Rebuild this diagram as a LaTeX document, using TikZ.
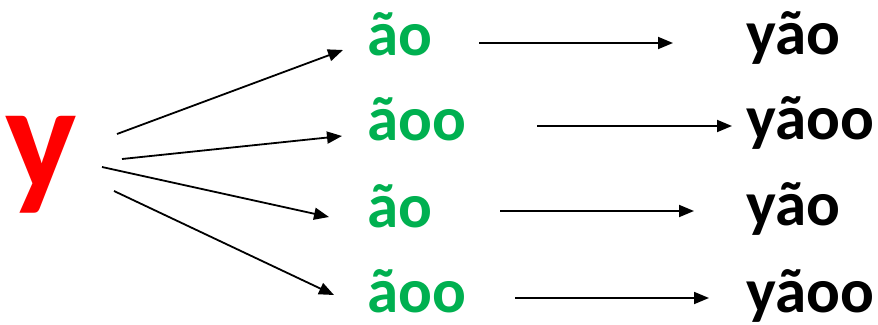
\documentclass[tikz,border=0pt]{standalone}
\usepackage{fontspec}
\setmainfont{Carlito}
\usetikzlibrary{arrows.meta}
\definecolor{offgreen}{HTML}{00B050}
\definecolor{offred}{HTML}{FF0000}
\tikzset{
  lbl/.style={anchor=base west, inner sep=0pt, text depth=0pt, font=\fontsize{63}{70}\selectfont\bfseries},
  grn/.style={lbl, text=offgreen},
  blk/.style={lbl, text=black},
  big/.style={anchor=base west, inner sep=0pt, text=offred, font=\fontsize{151}{160}\selectfont\bfseries},
  arr/.style={line width=1.8pt, -{Triangle[length=15pt, width=12pt]}},
}
\begin{document}
\begin{tikzpicture}[x=1pt, y=-1pt]
\useasboundingbox (0,0) rectangle (878,324);
\node[big] (y) at (5,189) {y};
\node[grn] (g1) at (367,55) {ão};
\node[grn] (g2) at (367,140) {ãoo};
\node[grn] (g3) at (367,227) {ão};
\node[grn] (g4) at (367,312) {ãoo};
\node[blk] (b1) at (746,54) {yão};
\node[blk] (b2) at (746,139) {yãoo};
\node[blk] (b3) at (746,225) {yão};
\node[blk] (b4) at (746,312) {yãoo};
% fan arrow endpoints
\coordinate (s1) at (117,134); \coordinate (e1) at (343,50);
\coordinate (s2) at (122,159); \coordinate (e2) at (342,136);
\coordinate (s3) at (102,167); \coordinate (e3) at (329,217);
\coordinate (s4) at (114,191); \coordinate (e4) at (334,295);
% right arrow endpoints
\coordinate (r1) at (479,43);  \coordinate (t1) at (673,43);
\coordinate (r2) at (537,126); \coordinate (t2) at (732,126);
\coordinate (r3) at (500,211); \coordinate (t3) at (694,211);
\coordinate (r4) at (515,298); \coordinate (t4) at (709,298);
\draw[arr] (s1) -- (e1);
\draw[arr] (s2) -- (e2);
\draw[arr] (s3) -- (e3);
\draw[arr] (s4) -- (e4);
\draw[arr] (r1) -- (t1);
\draw[arr] (r2) -- (t2);
\draw[arr] (r3) -- (t3);
\draw[arr] (r4) -- (t4);
\end{tikzpicture}
\end{document}
